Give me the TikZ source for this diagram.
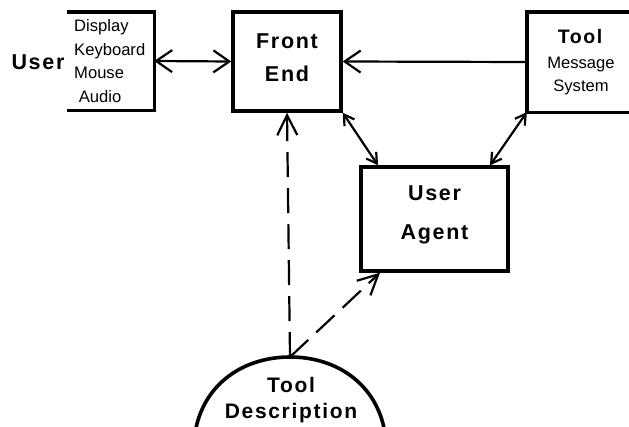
\documentclass[tikz,border=0pt]{standalone}
\usepackage{fontspec}
\setmainfont{Liberation Sans}
\newfontfamily\spacedfont[LetterSpace=8]{Liberation Sans}
\usetikzlibrary{arrows.meta}
\tikzset{
    thick-box/.style = {draw, line width=3.4pt, rectangle, inner sep=0pt},
    open-box/.style = {rectangle, inner sep=0pt},
    big-label/.style = {font=\spacedfont\bfseries\fontsize{21.5}{33}\selectfont, align=center, inner sep=0pt},
    small-label/.style = {font=\fontsize{16.6}{23.5}\selectfont, inner sep=0pt},
    link/.style = {line width=2.2pt, {Straight Barb[length=16pt,width=22pt]}-{Straight Barb[length=16pt,width=22pt]}},
    short-link/.style = {line width=2.2pt, {Straight Barb[length=10pt,width=12pt]}-{Straight Barb[length=10pt,width=12pt]}},
    dash-link/.style = {line width=2.2pt, dash pattern=on 25pt off 11pt, -{Straight Barb[length=20pt,width=20pt]}},
}

\begin{document}
\begin{tikzpicture}[x=1pt,y=-1pt]
\useasboundingbox (0,0) rectangle (629,426);

% user side
\node[open-box, minimum width=87pt, minimum height=98pt] (user) at (110.5,61) {};
\draw[line width=3.4pt] (user.north west) -- (user.north east) -- (user.south east) -- (user.south west);
\node[big-label] (user-name) at (38,62) {User};
\node[small-label, align=left, anchor=west] (devices) at (74,61) {Display\\Keyboard\\Mouse\\\ Audio};

% front end
\node[thick-box, minimum width=108pt, minimum height=99pt] (front) at (287,61.5) {};
\node[big-label] (front-text) at (287,58) {Front\\End};

% tool message system
\node[open-box, minimum width=102pt, minimum height=100pt] (tool) at (578,62) {};
\draw[line width=3.4pt] (tool.north east) -- (tool.north west) -- (tool.south west) -- (tool.south east);
\node[big-label, font=\spacedfont\bfseries\fontsize{19.5}{20}\selectfont] (tool-name) at (580,37) {Tool};
\node[small-label, align=center] (tool-text) at (581,76) {Message\\System};

% user agent
\node[thick-box, minimum width=147pt, minimum height=104pt] (agent) at (434.5,219) {};
\node[big-label, font=\spacedfont\bfseries\fontsize{21.5}{39}\selectfont] (agent-text) at (434.5,215) {User\\Agent};

% tool description
\node[big-label, font=\spacedfont\bfseries\fontsize{21}{26}\selectfont] (desc) at (291,400) {Tool\\Description};
\coordinate (desc-top) at (290,357);
\draw[line width=3.6pt] (196,428) to[out=78,in=180] (desc-top) to[out=0,in=102] (384,428);

% connections
\draw[link] (user.east) -- (front.west);
\draw[line width=2.2pt, -{Straight Barb[length=16pt,width=22pt]}] (tool.west) -- (front.east);
\draw[short-link] (front.south east) -- (agent.north west -| 378,0);
\draw[short-link] (tool.south west) -- (agent.north west -| 490,0);
\draw[dash-link] (desc-top) -- (front.south);
\draw[dash-link] (desc-top) -- (agent.south west -| 380,0);
\end{tikzpicture}
\end{document}
